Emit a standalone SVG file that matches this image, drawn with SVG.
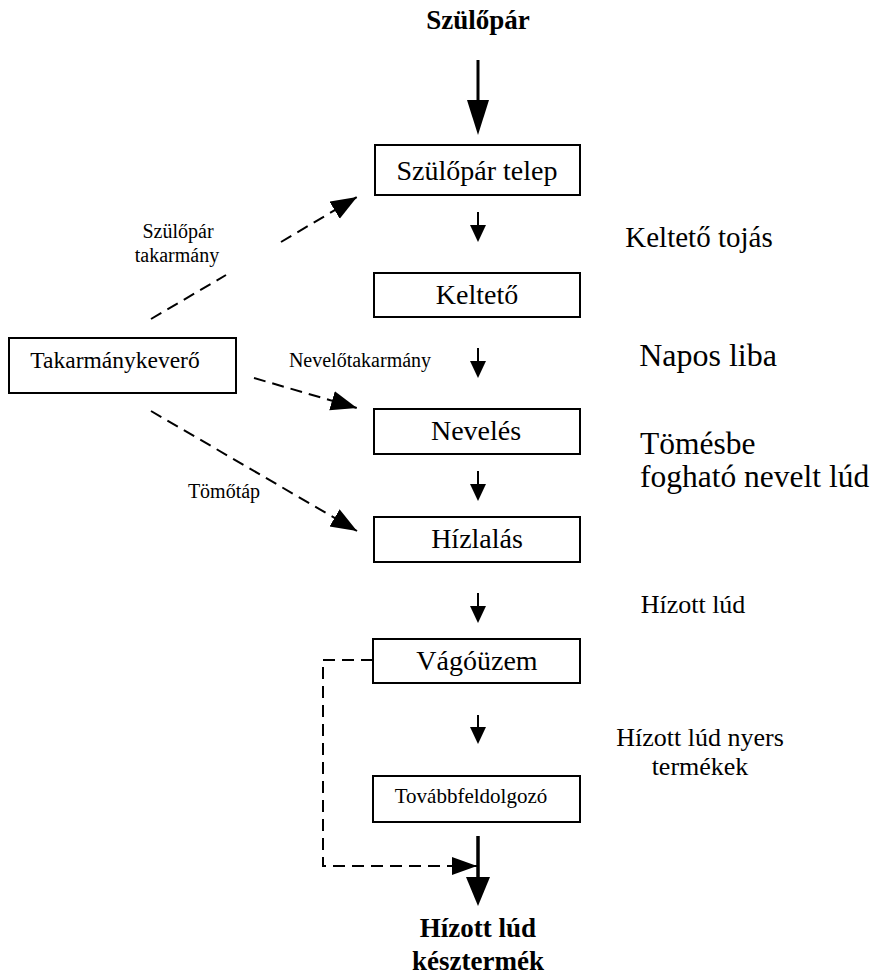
<svg xmlns="http://www.w3.org/2000/svg" width="873" height="979" viewBox="0 0 873 979">
<defs>
<style>
.box{fill:#fff;stroke:#000;stroke-width:2}
text{font-family:'Liberation Serif','Tinos','Times New Roman','DejaVu Serif',serif;fill:#000}
.t{text-anchor:middle}
.b{font-weight:bold}
.solid{stroke:#000;fill:none}
.dash{stroke:#000;stroke-width:2;fill:none;stroke-dasharray:12 7}
</style>
<marker id="dh" markerUnits="userSpaceOnUse" markerWidth="30" markerHeight="24" refX="26" refY="10" orient="auto">
<polygon points="0,0 26,10 0,20" fill="#000"/>
</marker>
<marker id="lh" markerUnits="userSpaceOnUse" markerWidth="30" markerHeight="24" refX="25" refY="9" orient="auto">
<polygon points="0,0 25,9 0,18" fill="#000"/>
</marker>
</defs>
<rect width="873" height="979" fill="#fff"/>

<g id="connectors">
<line class="solid" x1="478" y1="60" x2="478" y2="102" stroke-width="3"/>
<polygon points="467,100 489,100 478,135" fill="#000"/>
<line class="solid" x1="478" y1="212" x2="478" y2="227" stroke-width="2"/>
<polygon points="470,225 486,225 478,242" fill="#000"/>
<line class="solid" x1="478" y1="348" x2="478" y2="363" stroke-width="2"/>
<polygon points="470,361 486,361 478,378" fill="#000"/>
<line class="solid" x1="478" y1="471" x2="478" y2="486" stroke-width="2"/>
<polygon points="470,484 486,484 478,501" fill="#000"/>
<line class="solid" x1="478" y1="593" x2="478" y2="608" stroke-width="2"/>
<polygon points="470,606 486,606 478,623" fill="#000"/>
<line class="solid" x1="478" y1="715" x2="478" y2="729" stroke-width="2"/>
<polygon points="470,727 486,727 478,744" fill="#000"/>
<line class="solid" x1="478" y1="836" x2="478" y2="879" stroke-width="3.5"/>
<polygon points="466,877 490,877 478,906" fill="#000"/>
<line class="dash" x1="151" y1="319" x2="226" y2="275"/>
<line class="dash" x1="281" y1="242" x2="357" y2="197" marker-end="url(#dh)"/>
<line class="dash" x1="254" y1="378" x2="357" y2="408" marker-end="url(#dh)"/>
<line class="dash" x1="151" y1="411" x2="357" y2="531" marker-end="url(#dh)"/>
<polyline class="dash" points="373,660 323,660 323,866 477,866" marker-end="url(#lh)"/>
</g>

<g id="szulopar-label"><text class="t b" x="478" y="29" font-size="27">Szülőpár</text></g>
<g id="szulopar-telep"><rect class="box" x="375" y="145" width="205" height="50"/><text class="t" x="477" y="180" font-size="28">Szülőpár telep</text></g>
<g id="kelteto"><rect class="box" x="374" y="273" width="206" height="44"/><text class="t" x="477" y="304" font-size="28">Keltető</text></g>
<g id="neveles"><rect class="box" x="374" y="409" width="206" height="45"/><text class="t" x="476" y="440" font-size="28">Nevelés</text></g>
<g id="hizlalas"><rect class="box" x="374" y="517" width="206" height="45"/><text class="t" x="477" y="548" font-size="28">Hízlalás</text></g>
<g id="vagouzem"><rect class="box" x="373" y="639" width="207" height="44"/><text class="t" x="477" y="670" font-size="28">Vágóüzem</text></g>
<g id="tovabbfeldolgozo"><rect class="box" x="373" y="776" width="207" height="46"/><text class="t" x="471" y="803" font-size="21">Továbbfeldolgozó</text></g>
<g id="takarmanykevero"><rect class="box" x="9" y="338" width="227" height="55"/><text class="t" x="115" y="368" font-size="23.5">Takarmánykeverő</text></g>
<g id="vegtermek"><text class="t b" x="478" y="937" font-size="27">Hízott lúd</text><text class="t b" x="478" y="970" font-size="27">késztermék</text></g>

<g id="labels">
<text class="t" x="178" y="238" font-size="20">Szülőpár</text>
<text class="t" x="177" y="262" font-size="20">takarmány</text>
<text class="t" x="360" y="367" font-size="20">Nevelőtakarmány</text>
<text class="t" x="224" y="498" font-size="20">Tömőtáp</text>
<text class="t" x="699" y="247" font-size="29">Keltető tojás</text>
<text class="t" x="708" y="366" font-size="32">Napos liba</text>
<text x="640" y="454" font-size="31.5">Tömésbe</text>
<text x="640" y="487" font-size="31.5">fogható nevelt lúd</text>
<text class="t" x="693" y="613" font-size="26">Hízott lúd</text>
<text class="t" x="700" y="746" font-size="26">Hízott lúd nyers</text>
<text class="t" x="700" y="775" font-size="26">termékek</text>
</g>
</svg>
